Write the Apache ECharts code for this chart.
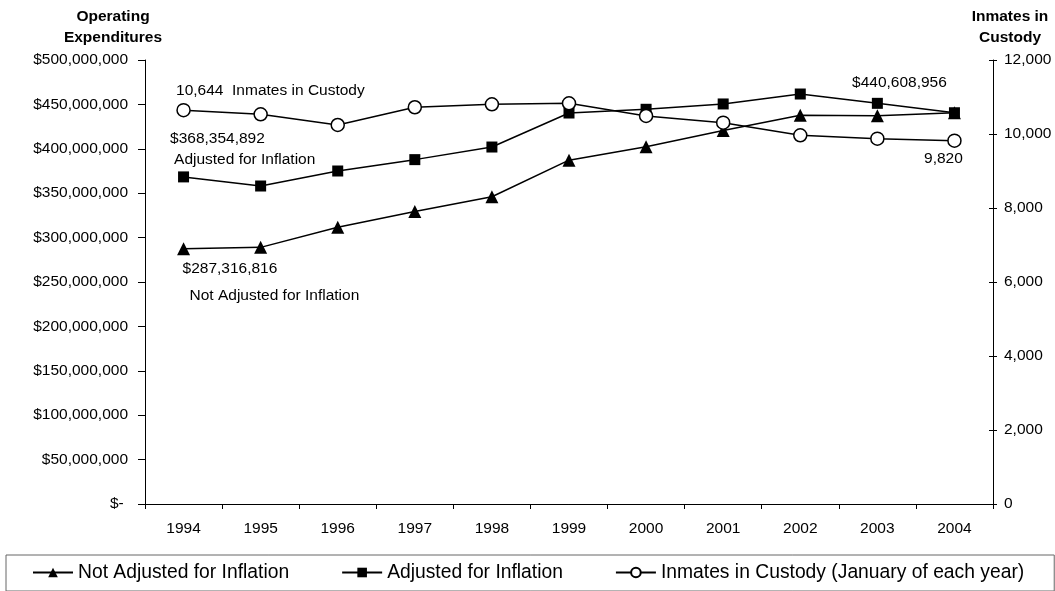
<!DOCTYPE html>
<html>
<head>
<meta charset="utf-8">
<script src="https://cdn.jsdelivr.net/npm/echarts@6/dist/echarts.min.js"></script>
<style>
  html, body { margin: 0; padding: 0; background: #fff; }
  #chart { width: 1055px; height: 591px; }
</style>
</head>
<body>
<div id="chart"></div>
<script>
const years = ['1994', '1995', '1996', '1997', '1998', '1999', '2000', '2001', '2002', '2003', '2004']
const notAdjusted = [287316816, 289000000, 311600000, 329400000, 346000000, 387200000, 402200000, 420500000, 437900000, 437300000, 440608956]
const adjusted = [368354892, 358100000, 375000000, 387800000, 402000000, 440300000, 444500000, 450500000, 461700000, 451200000, 440608956]
const inmates = [10644, 10533, 10244, 10723, 10804, 10831, 10488, 10307, 9966, 9874, 9820]

const FONT = '"Liberation Sans", Arial, sans-serif'
const chart = echarts.init(document.getElementById('chart'))

function money(v) {
  return v === 0 ? '$- ' : '$' + v.toLocaleString('en-US')
}

const labelBase = {
  show: true,
  position: 'inside',
  color: '#000',
  fontFamily: FONT,
  fontSize: 15.5
}

chart.setOption({
  animation: false,
  textStyle: { fontFamily: FONT },
  grid: { left: 145, right: 62, top: 60, bottom: 87 },
  graphic: [
    {
      type: 'text',
      style: {
        x: 113, y: 6, text: 'Operating\nExpenditures', textAlign: 'center',
        font: 'bold 15.5px "Liberation Sans", Arial, sans-serif', lineHeight: 21, fill: '#000'
      }
    },
    {
      type: 'text',
      style: {
        x: 1010, y: 6, text: 'Inmates in\nCustody', textAlign: 'center',
        font: 'bold 15.5px "Liberation Sans", Arial, sans-serif', lineHeight: 21, fill: '#000'
      }
    }
  ],
  legend: {
    left: 6,
    top: 555,
    width: 1010,
    padding: [8, 30, 9, 26],
    itemGap: 52,
    itemWidth: 40,
    itemHeight: 12,
    borderColor: '#666',
    borderWidth: 1,
    borderRadius: 0,
    textStyle: { fontFamily: FONT, fontSize: 19.3, color: '#000' },
    data: ['Not Adjusted for Inflation', 'Adjusted for Inflation', 'Inmates in Custody (January of each year)']
  },
  xAxis: {
    type: 'category',
    data: years,
    boundaryGap: true,
    axisLine: { lineStyle: { color: '#000', width: 1 } },
    axisTick: { show: true, length: 5, lineStyle: { color: '#000' } },
    axisLabel: { interval: 0, margin: 17, color: '#000', fontSize: 15.5, fontFamily: FONT },
    splitLine: { show: false }
  },
  yAxis: [
    {
      type: 'value',
      min: 0,
      max: 500000000,
      interval: 50000000,
      position: 'left',
      axisLine: { show: true, lineStyle: { color: '#000' } },
      axisTick: { show: true, length: 7, lineStyle: { color: '#000' } },
      axisLabel: { margin: 17, color: '#000', fontSize: 15.5, fontFamily: FONT, formatter: money },
      splitLine: { show: false }
    },
    {
      type: 'value',
      min: 0,
      max: 12000,
      interval: 2000,
      position: 'right',
      axisLine: { show: true, lineStyle: { color: '#000' } },
      axisTick: { show: true, length: 4, lineStyle: { color: '#000' } },
      axisLabel: {
        margin: 11, color: '#000', fontSize: 15.5, fontFamily: FONT,
        formatter: v => v.toLocaleString('en-US')
      },
      splitLine: { show: false }
    },
    {
      // inner half of the crossing ticks on the right axis
      type: 'value',
      min: 0,
      max: 12000,
      interval: 2000,
      position: 'right',
      axisLine: { show: false },
      axisTick: { show: true, inside: true, length: 4, lineStyle: { color: '#000' } },
      axisLabel: { show: false },
      splitLine: { show: false }
    }
  ],
  series: [
    {
      name: 'Not Adjusted for Inflation',
      type: 'line',
      yAxisIndex: 0,
      symbol: 'triangle',
      symbolSize: 13,
      lineStyle: { color: '#000', width: 1.5 },
      itemStyle: { color: '#000' },
      data: notAdjusted.map((v, i) => i === 0 ? {
        value: v,
        label: {
          ...labelBase,
          align: 'left',
          verticalAlign: 'middle',
          offset: [-1, 33],
          formatter: '{a|' + money(v) + '}\n{b|Not Adjusted for Inflation}',
          rich: {
            a: { fontSize: 15.5, fontFamily: FONT, color: '#000', lineHeight: 27 },
            b: { fontSize: 15.5, fontFamily: FONT, color: '#000', lineHeight: 27, padding: [0, 0, 0, 7] }
          }
        }
      } : v)
    },
    {
      name: 'Adjusted for Inflation',
      type: 'line',
      yAxisIndex: 0,
      symbol: 'rect',
      symbolSize: 11,
      lineStyle: { color: '#000', width: 1.5 },
      itemStyle: { color: '#000' },
      data: adjusted.map((v, i) => {
        if (i === 0) {
          return {
            value: v,
            label: {
              ...labelBase,
              align: 'left',
              verticalAlign: 'middle',
              offset: [-13.5, -27.5],
              formatter: '{a|' + money(v) + '}\n{b|Adjusted for Inflation}',
              rich: {
                a: { fontSize: 15.5, fontFamily: FONT, color: '#000', lineHeight: 21 },
                b: { fontSize: 15.5, fontFamily: FONT, color: '#000', lineHeight: 21, padding: [0, 0, 0, 4] }
              }
            }
          }
        }
        if (i === adjusted.length - 1) {
          return {
            value: v,
            label: {
              ...labelBase,
              align: 'center',
              verticalAlign: 'middle',
              offset: [-55, -30],
              formatter: money(v)
            }
          }
        }
        return v
      })
    },
    {
      name: 'Inmates in Custody (January of each year)',
      type: 'line',
      yAxisIndex: 1,
      symbol: 'circle',
      symbolSize: 13,
      lineStyle: { color: '#000', width: 1.5 },
      itemStyle: { color: '#fff', borderColor: '#000', borderWidth: 1.5 },
      data: inmates.map((v, i) => {
        if (i === 0) {
          return {
            value: v,
            label: {
              ...labelBase,
              align: 'left',
              verticalAlign: 'middle',
              offset: [-7.5, -19],
              formatter: v.toLocaleString('en-US') + '  Inmates in Custody'
            }
          }
        }
        if (i === inmates.length - 1) {
          return {
            value: v,
            label: {
              ...labelBase,
              align: 'center',
              verticalAlign: 'middle',
              offset: [-11, 18.5],
              formatter: v.toLocaleString('en-US')
            }
          }
        }
        return v
      })
    }
  ]
})
</script>
</body>
</html>
